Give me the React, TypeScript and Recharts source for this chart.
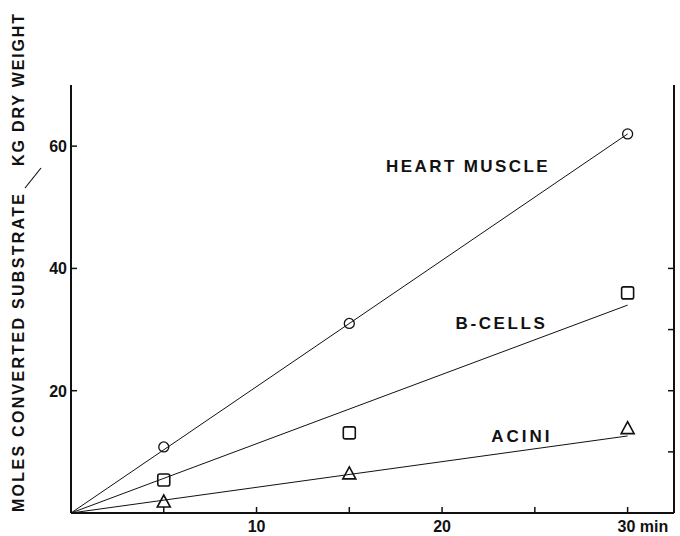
import React from "react";
import {
  ComposedChart,
  Line,
  Scatter,
  XAxis,
  YAxis,
  ReferenceDot,
} from "recharts";

const sampleTimes = [5, 15, 30];
const heartMuscle = [10.8, 31, 62];
const bCells = [5.4, 13.1, 36];
const acini = [1.8, 6.4, 13.8];

const fitTimes = [0, 30];
const heartFit = [0, 62];
const bCellFit = [0, 34];
const aciniFit = [0, 12.6];

const xTicks = [5, 10, 15, 20, 25, 30];
const xTickLabels: Record<number, string> = { 10: "10", 20: "20", 30: "30 min" };
const yLeftTicks = [20, 40, 60];
const yRightTicks = [10, 20, 30, 40];

const toPoints = (xs: number[], ys: number[]) => xs.map((x, i) => ({ x, y: ys[i] }));

const FONT = "'Liberation Sans', Arial, Helvetica, sans-serif";
const INK = "#111";

const Circle = ({ cx, cy }: any) => (
  <circle cx={cx} cy={cy} r={5} fill="none" stroke={INK} strokeWidth={1.3} />
);
const Square = ({ cx, cy }: any) => (
  <rect x={cx - 6} y={cy - 6} width={12} height={12} rx={2} fill="none" stroke={INK} strokeWidth={1.6} />
);
const Triangle = ({ cx, cy }: any) => (
  <path d={`M${cx},${cy - 7} L${cx + 6.5},${cy + 5} L${cx - 6.5},${cy + 5} Z`} fill="none" stroke={INK} strokeWidth={1.6} />
);

const XTick = ({ x, y, payload }: any) => {
  const label = xTickLabels[payload.value];
  return (
    <g>
      <line x1={x} y1={y} x2={x} y2={y - 6} stroke={INK} strokeWidth={1.5} />
      {label && (
        <text
          x={payload.value === 30 ? x - 10 : x}
          y={y + 19}
          textAnchor={payload.value === 30 ? "start" : "middle"}
          fontFamily={FONT}
          fontWeight="bold"
          fontSize={16}
          fill={INK}
        >
          {label}
        </text>
      )}
    </g>
  );
};

const LeftTick = ({ x, y, payload }: any) => (
  <g>
    <line x1={x} y1={y} x2={x + 6} y2={y} stroke={INK} strokeWidth={1.5} />
    <text x={x - 4} y={y + 6} textAnchor="end" fontFamily={FONT} fontWeight="bold" fontSize={16} fill={INK}>
      {payload.value}
    </text>
  </g>
);

const RightTick = ({ x, y }: any) => (
  <line x1={x} y1={y} x2={x - 6} y2={y} stroke={INK} strokeWidth={1.5} />
);

const YTitle = () => (
  <g fontFamily={FONT} fontWeight="bold" fontSize={16} fill={INK}>
    <text transform="rotate(-90)" x={-512} y={24} textLength={318} lengthAdjust="spacing">
      MOLES CONVERTED SUBSTRATE
    </text>
    <line x1={25} y1={188} x2={41} y2={168} stroke={INK} strokeWidth={1.2} />
    <text transform="rotate(-90)" x={-166} y={24} textLength={152} lengthAdjust="spacing">
      KG DRY WEIGHT
    </text>
  </g>
);

const curveLabel = (text: string, spacing: number) => ({ viewBox }: any) => (
  <text
    x={viewBox.x}
    y={viewBox.y}
    textAnchor="middle"
    dominantBaseline="central"
    fontFamily={FONT}
    fontWeight="bold"
    fontSize={17}
    letterSpacing={spacing}
    fill={INK}
  >
    {text}
  </text>
);

export default function App() {
  return (
    <div style={{ position: "absolute", left: 0, top: 0, width: 680, height: 536, background: "#fff" }}>
      <ComposedChart width={680} height={536} margin={{ top: 85, right: 0, bottom: 0, left: 0 }}>
        <XAxis
          xAxisId="t"
          type="number"
          dataKey="x"
          domain={[0, 32.5]}
          ticks={xTicks}
          tick={<XTick />}
          tickSize={0}
          tickMargin={0}
          tickLine={false}
          axisLine={{ stroke: INK, strokeWidth: 2 }}
          height={23}
          allowDataOverflow
        />
        <YAxis
          yAxisId="v"
          type="number"
          dataKey="y"
          domain={[0, 70]}
          ticks={yLeftTicks}
          tick={<LeftTick />}
          tickSize={0}
          tickMargin={0}
          tickLine={false}
          axisLine={{ stroke: INK, strokeWidth: 2 }}
          width={71}
          label={<YTitle />}
          allowDataOverflow
        />
        <YAxis
          yAxisId="r"
          orientation="right"
          type="number"
          domain={[0, 70]}
          ticks={yRightTicks}
          tick={<RightTick />}
          tickSize={0}
          tickMargin={0}
          tickLine={false}
          axisLine={{ stroke: INK, strokeWidth: 2 }}
          width={6}
          allowDataOverflow
        />
        <Line xAxisId="t" yAxisId="v" data={toPoints(fitTimes, heartFit)} dataKey="y" type="linear" stroke={INK} strokeWidth={1} dot={false} isAnimationActive={false} />
        <Line xAxisId="t" yAxisId="v" data={toPoints(fitTimes, bCellFit)} dataKey="y" type="linear" stroke={INK} strokeWidth={1} dot={false} isAnimationActive={false} />
        <Line xAxisId="t" yAxisId="v" data={toPoints(fitTimes, aciniFit)} dataKey="y" type="linear" stroke={INK} strokeWidth={1} dot={false} isAnimationActive={false} />
        <Scatter xAxisId="t" yAxisId="v" data={toPoints(sampleTimes, heartMuscle)} dataKey="y" shape={<Circle />} isAnimationActive={false} />
        <Scatter xAxisId="t" yAxisId="v" data={toPoints(sampleTimes, bCells)} dataKey="y" shape={<Square />} isAnimationActive={false} />
        <Scatter xAxisId="t" yAxisId="v" data={toPoints(sampleTimes, acini)} dataKey="y" shape={<Triangle />} isAnimationActive={false} />
        <ReferenceDot xAxisId="t" yAxisId="v" x={21.4} y={56.6} r={0} stroke="none" label={curveLabel("HEART  MUSCLE", 2.4)} />
        <ReferenceDot xAxisId="t" yAxisId="v" x={23.2} y={31} r={0} stroke="none" label={curveLabel("B-CELLS", 2.6)} />
        <ReferenceDot xAxisId="t" yAxisId="v" x={24.3} y={12.5} r={0} stroke="none" label={curveLabel("ACINI", 3)} />
      </ComposedChart>
    </div>
  );
}
